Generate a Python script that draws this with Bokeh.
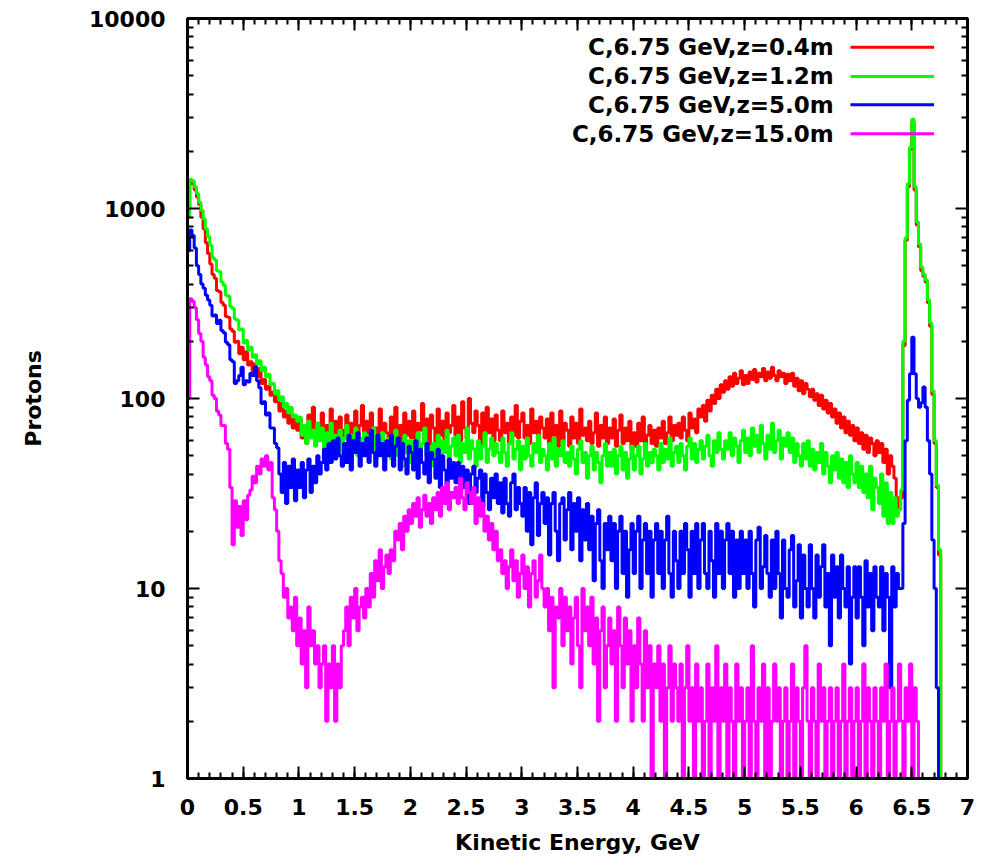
import numpy as np
from bokeh.plotting import figure
from bokeh.models import (Range1d, FixedTicker, PrintfTickFormatter, LinearAxis,
                          LogAxis, CustomJSTickFormatter)
from bokeh.core.properties import value
from bokeh.embed import file_html
from bokeh.resources import INLINE

# ---------------- data (histogram, bin width 0.02 GeV, left bin edges) ----------------
BIN_WIDTH = 0.02
N_BINS = 340
energy_gev = np.round(np.arange(N_BINS) * BIN_WIDTH, 2)

protons_z04 = [
    1000, 1380, 1350, 1250, 1150, 1050, 900, 780, 660, 580,
    510, 450, 430, 370, 365, 320, 310, 270, 268, 232,
    226, 198, 200, 172, 186, 160, 176, 150, 156, 140,
    152, 130, 144, 120, 126, 112, 116, 104, 108, 96,
    102, 86, 94, 80, 86, 74, 82, 70, 78, 68,
    78, 62, 70, 58, 82, 66, 90, 60, 74, 64,
    84, 58, 72, 66, 88, 60, 76, 56, 80, 68,
    62, 82, 58, 74, 64, 86, 56, 72, 92, 60,
    76, 56, 84, 64, 70, 58, 88, 62, 74, 66,
    58, 80, 66, 90, 60, 72, 56, 84, 64, 76,
    62, 86, 58, 74, 68, 94, 60, 78, 56, 82,
    70, 58, 88, 64, 76, 60, 84, 66, 72, 92,
    64, 80, 60, 96, 70, 62, 100, 74, 66, 86,
    72, 58, 84, 64, 90, 66, 78, 60, 82, 68,
    60, 86, 66, 74, 58, 80, 64, 92, 62, 76,
    84, 62, 72, 58, 88, 66, 76, 56, 80, 70,
    62, 78, 58, 84, 64, 72, 56, 86, 60, 74,
    68, 56, 80, 62, 74, 58, 88, 64, 70, 60,
    76, 58, 66, 84, 56, 72, 62, 80, 58, 70,
    62, 78, 56, 68, 82, 58, 70, 60, 76, 54,
    66, 56, 74, 60, 80, 54, 64, 72, 58, 68,
    56, 70, 62, 76, 58, 66, 80, 60, 72, 64,
    74, 62, 80, 68, 60, 84, 70, 78, 66, 88,
    80, 92, 76, 98, 86, 104, 94, 112, 100, 118,
    108, 124, 112, 130, 116, 136, 120, 128, 140, 118,
    132, 120, 138, 126, 142, 122, 136, 130, 144, 124,
    138, 128, 146, 132, 124, 140, 130, 136, 120, 134,
    124, 136, 116, 128, 110, 124, 106, 120, 112, 102,
    112, 98, 106, 92, 104, 88, 98, 84, 94, 80,
    88, 74, 84, 70, 80, 66, 76, 64, 72, 60,
    70, 58, 66, 54, 64, 52, 62, 58, 50, 60,
    52, 58, 46, 54, 40, 50, 44, 38, 30, 26,
    30, 190, 680, 1300, 2050, 2850, 1250, 820, 630, 470,
    440, 410, 320, 240, 105, 58, 34, 15, 1, 1,
]

protons_z12 = [
    900, 1420, 1400, 1300, 1200, 1080, 980, 880, 780, 710,
    640, 550, 535, 470, 465, 410, 395, 350, 345, 305,
    298, 262, 258, 230, 232, 196, 202, 180, 186, 165,
    170, 152, 158, 140, 146, 130, 134, 118, 120, 106,
    110, 98, 102, 90, 94, 84, 90, 80, 82, 76,
    80, 64, 72, 58, 76, 62, 68, 56, 74, 60,
    70, 54, 66, 60, 74, 52, 64, 58, 68, 50,
    62, 72, 52, 64, 56, 70, 50, 62, 58, 66,
    50, 64, 56, 70, 48, 60, 54, 66, 46, 58,
    62, 48, 58, 68, 50, 56, 44, 64, 52, 60,
    46, 60, 54, 66, 48, 58, 70, 50, 56, 44,
    58, 50, 64, 46, 60, 52, 68, 48, 56, 62,
    50, 64, 46, 58, 52, 70, 48, 60, 54, 44,
    60, 48, 56, 66, 46, 54, 62, 50, 58, 52,
    46, 62, 52, 44, 58, 66, 48, 54, 60, 42,
    56, 48, 62, 50, 44, 58, 52, 64, 46, 54,
    50, 42, 58, 48, 62, 44, 54, 50, 60, 46,
    52, 44, 56, 48, 40, 54, 60, 46, 52, 38,
    50, 56, 42, 52, 46, 36, 50, 58, 44, 52,
    44, 54, 40, 50, 56, 42, 52, 38, 48, 56,
    42, 50, 56, 40, 48, 58, 44, 52, 46, 54,
    50, 42, 58, 46, 54, 48, 62, 44, 52, 56,
    46, 58, 50, 42, 56, 62, 48, 58, 46, 54,
    60, 48, 56, 64, 50, 44, 60, 52, 66, 54,
    48, 60, 54, 66, 50, 62, 56, 46, 60, 68,
    52, 62, 50, 70, 56, 64, 52, 72, 58, 48,
    64, 54, 74, 52, 60, 68, 48, 62, 56, 66,
    52, 62, 46, 58, 50, 44, 58, 48, 60, 44,
    54, 42, 52, 46, 58, 40, 52, 44, 36, 50,
    42, 52, 38, 48, 36, 46, 34, 50, 40, 36,
    46, 34, 44, 32, 40, 30, 44, 26, 38, 34,
    28, 40, 24, 36, 22, 32, 22, 30, 24, 26,
    33, 200, 700, 1350, 2100, 2950, 1300, 850, 650, 490,
    450, 420, 330, 250, 110, 60, 35, 16, 1, 1,
]

protons_z50 = [
    600, 770, 720, 620, 500, 450, 400, 380, 350, 330,
    310, 272, 275, 248, 258, 228, 222, 198, 192, 160,
    156, 120, 124, 132, 146, 118, 124, 122, 136, 132,
    146, 124, 114, 94, 96, 82, 84, 70, 70, 58,
    55, 40, 32, 46, 28, 44, 34, 48, 29, 42,
    34, 46, 30, 42, 48, 32, 44, 36, 50, 40,
    46, 54, 42, 58, 46, 60, 48, 62, 50, 44,
    58, 46, 64, 42, 60, 52, 66, 44, 58, 50,
    62, 46, 68, 52, 44, 64, 50, 58, 42, 60,
    50, 64, 44, 56, 62, 42, 58, 48, 40, 56,
    52, 42, 60, 38, 54, 46, 40, 58, 36, 52,
    48, 38, 54, 34, 50, 42, 32, 48, 38, 46,
    36, 46, 30, 44, 34, 42, 28, 40, 44, 32,
    38, 42, 27, 40, 32, 26, 38, 30, 40, 28,
    36, 25, 38, 28, 24, 36, 40, 26, 34, 28,
    24, 34, 20, 32, 17, 30, 36, 19, 28, 32,
    22, 30, 15, 28, 32, 20, 14, 28, 30, 18,
    26, 32, 16, 28, 20, 30, 14, 26, 18, 28,
    16, 24, 11, 22, 26, 14, 10, 22, 16, 24,
    14, 22, 10, 20, 24, 12, 20, 9, 16, 22,
    12, 20, 24, 10, 18, 22, 12, 20, 9, 18,
    22, 12, 20, 10, 18, 24, 12, 9, 20, 14,
    10, 20, 12, 22, 16, 9, 20, 12, 22, 10,
    18, 22, 12, 10, 20, 14, 9, 22, 12, 20,
    10, 18, 22, 12, 20, 9, 18, 10, 20, 12,
    18, 10, 20, 12, 8, 18, 21, 10, 13, 19,
    12, 9, 18, 10, 20, 12, 7, 18, 10, 9,
    16, 19, 8, 11, 17, 7, 15, 10, 8, 17,
    10, 7, 15, 9, 13, 17, 8, 12, 5, 15,
    9, 13, 7, 15, 10, 8, 13, 4, 9, 13,
    7, 13, 9, 5, 14, 8, 12, 6, 13, 9,
    8, 13, 6, 12, 9, 3, 13, 8, 12, 10,
    10, 22, 60, 98, 135, 210, 135, 100, 90, 95,
    115, 90, 60, 40, 18, 10, 3, 1, 1, 1,
]

protons_z150 = [
    100, 335, 325, 300, 260, 220, 200, 165, 150, 130,
    124, 104, 100, 86, 82, 72, 72, 58, 54, 34,
    17, 29, 21, 27, 19, 29, 23, 31, 33, 39,
    36, 44, 40, 48, 44, 50, 42, 46, 30, 26,
    20, 14, 12, 9, 10, 7, 8, 6, 9, 5,
    7, 4, 6, 3, 8, 5, 6, 4, 5, 3,
    4, 5, 2, 4, 3, 5, 2, 4, 3, 5,
    6, 8, 5, 9, 7, 10, 6, 8, 9, 7,
    10, 8, 12, 9, 14, 11, 16, 10, 13, 15,
    12, 16, 14, 20, 18, 22, 16, 24, 20, 26,
    22, 28, 24, 30, 21, 26, 31, 24, 28, 22,
    30, 26, 32, 24, 34, 28, 36, 26, 32, 30,
    34, 28, 38, 30, 26, 36, 32, 28, 34, 22,
    30, 24, 28, 20, 24, 18, 22, 16, 20, 14,
    16, 12, 14, 10, 13, 16, 11, 14, 9, 12,
    15, 10, 13, 8, 12, 14, 9, 11, 15, 10,
    8, 10, 6, 9, 3, 8, 7, 10, 5, 9,
    6, 8, 4, 7, 9, 5, 3, 10, 6, 8,
    5, 9, 4, 7, 2, 6, 8, 3, 5, 7,
    4, 6, 2, 8, 5, 3, 7, 4, 6, 2,
    5, 3, 7, 4, 2, 6, 3, 5, 1, 4,
    3, 5, 2, 4, 1, 3, 5, 2, 4, 3,
    2, 4, 1, 3, 5, 2, 3, 1, 4, 2,
    3, 1, 2, 4, 1, 3, 2, 5, 1, 3,
    2, 4, 1, 3, 2, 1, 4, 2, 3, 1,
    2, 3, 1, 5, 2, 1, 3, 2, 4, 1,
    3, 1, 2, 4, 2, 3, 1, 2, 3, 1,
    2, 4, 1, 3, 2, 1, 3, 5, 2, 1,
    3, 2, 1, 4, 2, 3, 1, 2, 3, 1,
    2, 3, 1, 2, 4, 1, 2, 3, 1, 2,
    3, 1, 2, 4, 1, 3, 2, 1, 3, 2,
    1, 3, 2, 4, 1, 2, 3, 1, 2, 4,
    2, 1, 3, 2, 4, 1, 3, 2, 0, 0,
    0, 0, 0, 0, 0, 0, 0, 0, 0, 0,
]

series_values = [protons_z04, protons_z12, protons_z50, protons_z150]
series_labels = ["C,6.75 GeV,z=0.4m", "C,6.75 GeV,z=1.2m",
                 "C,6.75 GeV,z=5.0m", "C,6.75 GeV,z=15.0m"]
series_colors = ["#ff0000", "#00ff00", "#0000ff", "#ff00ff"]

x_tick_values = [0, 0.5, 1, 1.5, 2, 2.5, 3, 3.5, 4, 4.5, 5, 5.5, 6, 6.5, 7]
y_tick_values = [1, 10, 100, 1000, 10000]

# ---------------- figure ----------------
FONT = "DejaVu Sans"

p = figure(width=993, height=868, x_range=Range1d(0, 7), y_range=Range1d(1, 10000),
           y_axis_type="log", output_backend="svg", toolbar_location=None,
           min_border_left=187, min_border_right=26, min_border_top=18,
           min_border_bottom=90, background_fill_color="white",
           border_fill_color="white")
p.xgrid.visible = False
p.ygrid.visible = False
p.outline_line_color = "black"
p.outline_line_width = 3

x_minor = [round(0.1 * i, 1) for i in range(71)]
y_minor = [m * 10 ** d for d in range(4) for m in range(2, 10)]
xticker = FixedTicker(ticks=x_tick_values, minor_ticks=x_minor)
yticker = FixedTicker(ticks=y_tick_values, minor_ticks=y_minor)


def style_axis(ax):
    ax.axis_line_width = 3
    ax.axis_line_color = "black"
    ax.major_tick_in = 12
    ax.major_tick_out = 0
    ax.minor_tick_in = 6
    ax.minor_tick_out = 0
    ax.major_tick_line_width = 2
    ax.minor_tick_line_width = 2
    ax.major_tick_line_color = "black"
    ax.minor_tick_line_color = "black"
    ax.major_label_text_font = FONT
    ax.major_label_text_font_style = "bold"
    ax.major_label_text_font_size = "22px"
    ax.major_label_text_color = "black"
    ax.axis_label_text_font = FONT
    ax.axis_label_text_font_style = "bold"
    ax.axis_label_text_font_size = "22px"
    ax.axis_label_text_color = "black"


xa = p.xaxis[0]
xa.ticker = xticker
style_axis(xa)
xa.major_label_standoff = 20
xa.axis_label = "Kinetic Energy, GeV"
xa.axis_label_standoff = 12

ya = p.yaxis[0]
ya.ticker = yticker
ya.formatter = PrintfTickFormatter(format="%d")
style_axis(ya)
ya.major_label_standoff = 22
ya.axis_label = "Protons"
ya.axis_label_standoff = 40

blank = CustomJSTickFormatter(code="return ''")
top_ax = LinearAxis(ticker=xticker, formatter=blank)
style_axis(top_ax)
top_ax.major_label_text_font_size = "0px"
top_ax.major_label_standoff = 0
p.add_layout(top_ax, "above")

right_ax = LogAxis(ticker=yticker, formatter=blank)
style_axis(right_ax)
right_ax.major_label_text_font_size = "0px"
right_ax.major_label_standoff = 0
p.add_layout(right_ax, "right")

# ---------------- data lines ----------------
for vals, col in zip(series_values, series_colors):
    y = np.maximum(np.asarray(vals, dtype=float), 0.5)  # empty bins fall below the axis
    p.step(x=energy_gev, y=y, mode="after", line_color=col, line_width=3)

# ---------------- key (gnuplot style: text then sample line) ----------------
key_text_x = 5.80
key_line_x0, key_line_x1 = 5.95, 6.70
key_y = [10 ** v for v in (3.849, 3.695, 3.546, 3.393)]
p.text(x=[key_text_x] * 4, y=key_y, text=series_labels, text_align="right",
       text_baseline="middle", text_font=value(FONT), text_font_style="bold",
       text_font_size="23px", text_color="black")
p.segment(x0=[key_line_x0] * 4, x1=[key_line_x1] * 4, y0=key_y, y1=key_y,
          line_color=series_colors, line_width=3)

open("out.html", "w").write(file_html(p, INLINE))
